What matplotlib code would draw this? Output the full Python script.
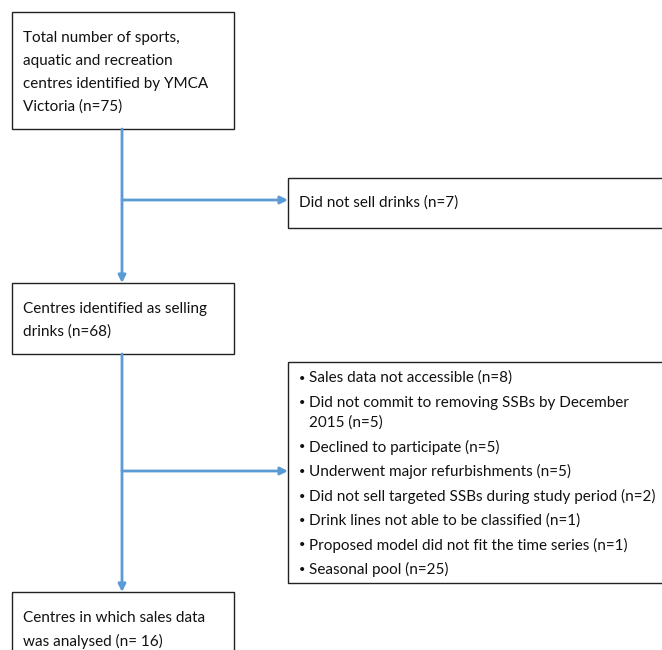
import matplotlib.pyplot as plt
from matplotlib.patches import Rectangle

plt.rcParams['font.family'] = ['Lato', 'DejaVu Sans']

# flowchart content
main_boxes = [
    ["Total number of sports,", "aquatic and recreation", "centres identified by YMCA", "Victoria (n=75)"],
    ["Centres identified as selling", "drinks (n=68)"],
    ["Centres in which sales data", "was analysed (n= 16)"],
]
excluded_first = "Did not sell drinks (n=7)"
excluded_reasons = [
    ["Sales data not accessible (n=8)"],
    ["Did not commit to removing SSBs by December", "2015 (n=5)"],
    ["Declined to participate (n=5)"],
    ["Underwent major refurbishments (n=5)"],
    ["Did not sell targeted SSBs during study period (n=2)"],
    ["Drink lines not able to be classified (n=1)"],
    ["Proposed model did not fit the time series (n=1)"],
    ["Seasonal pool (n=25)"],
]

blue = '#5b9bd5'
fs = 11

fig = plt.figure(figsize=(6.62, 6.50), dpi=100)
ax = fig.add_axes([0, 0, 1, 1])
ax.set_xlim(0, 662)
ax.set_ylim(650, 0)
ax.axis('off')

def box(x0, y0, x1, y1):
    ax.add_patch(Rectangle((x0, y0), x1 - x0, y1 - y0, fill=False,
                           edgecolor='#222222', lw=1.0, zorder=3))

# main column boxes
main_pos = [(12, 12, 234, 129), (12, 283, 234, 354), (12, 592, 234, 660)]
for (x0, y0, x1, y1), lines in zip(main_pos, main_boxes):
    box(x0, y0, x1, y1)
    for i, t in enumerate(lines):
        ax.text(23, y0 + 26 + i * 23, t, fontsize=fs, va='center', ha='left', color='#111111')

# side boxes
box(288, 178, 680, 228)
ax.text(299, 203, excluded_first, fontsize=fs, va='center', ha='left', color='#111111')

box(288, 362, 680, 583)
y = 378
for item in excluded_reasons:
    for j, t in enumerate(item):
        if j == 0:
            ax.text(299, y, u'\u2022', fontsize=fs - 3, va='center', ha='left', color='#111111')
        ax.text(309, y, t, fontsize=fs, va='center', ha='left', color='#111111')
        y += 20 if j < len(item) - 1 else 0
    y += 24.5

# connectors
xc = 122
ap = dict(arrowstyle='-|>', color=blue, lw=2, mutation_scale=11, shrinkA=0, shrinkB=0)
ax.annotate('', xy=(xc, 283), xytext=(xc, 129), arrowprops=ap)
ax.annotate('', xy=(288, 200), xytext=(xc, 200), arrowprops=ap)
ax.annotate('', xy=(xc, 592), xytext=(xc, 354), arrowprops=ap)
ax.annotate('', xy=(288, 471), xytext=(xc, 471), arrowprops=ap)

fig.savefig('out.png', dpi=100)
